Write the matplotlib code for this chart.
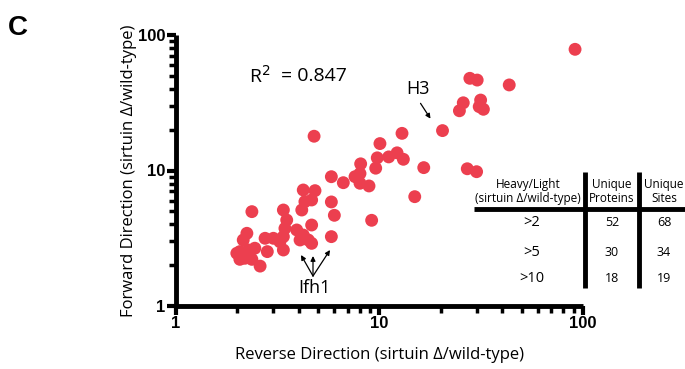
import matplotlib
matplotlib.use("Agg")
import matplotlib.pyplot as plt
from matplotlib.lines import Line2D
from matplotlib.ticker import LogLocator, NullFormatter, FixedFormatter, FixedLocator

# Reverse (x) vs forward (y) heavy/light ratios
reverse_ratio = [
    91.4, 27.8, 30.2, 43.4, 25.8, 24.7, 31.4, 30.9, 32.4, 20.4,
    4.77, 12.9, 10.05, 9.75, 9.58, 11.1, 12.2, 13.1, 16.5, 27.0,
    30.0, 8.08, 8.02, 7.58, 8.02, 8.88, 6.64, 5.80, 14.9, 9.15,
    4.22, 4.82, 4.30, 4.15, 5.80, 6.0, 5.80, 2.36, 3.37, 3.50,
    3.43, 3.37, 2.23, 2.14, 2.06, 2.27, 2.44, 2.18, 2.36, 2.59,
    2.81, 2.74, 3.01, 3.24, 3.37, 3.92, 4.22, 4.47, 4.64, 4.64,
    4.07, 1.99, 4.64, 2.06,
]
forward_ratio = [
    78.4, 47.9, 46.5, 42.8, 31.6, 27.6, 33.1, 29.6, 28.3, 19.7,
    17.9, 18.8, 15.8, 12.4, 10.4, 12.6, 13.5, 12.1, 10.5, 10.3,
    9.8, 11.2, 9.5, 9.0, 8.05, 7.69, 8.13, 9.0, 6.41, 4.29,
    7.18, 7.10, 5.89, 5.11, 5.86, 4.67, 3.25, 4.97, 5.11, 4.31,
    3.74, 3.25, 3.44, 3.07, 2.52, 2.59, 2.67, 2.25, 2.21, 1.97,
    2.52, 3.16, 3.16, 2.98, 2.59, 3.64, 3.34, 3.07, 3.96, 2.90,
    3.07, 2.45, 6.06, 2.21,
]

r_squared = 0.847

table_header = ["Heavy/Light\n(sirtuin \u0394/wild-type)", "Unique\nProteins", "Unique\nSites"]
thresholds = [">2", ">5", ">10"]
unique_proteins = [52, 30, 18]
unique_sites = [68, 34, 19]

W, H = 685, 369


def fx(x):
    return x / W


def fy(y):
    return 1 - y / H


fig = plt.figure(figsize=(6.85, 3.69), dpi=100)
ax = fig.add_axes([fx(176), fy(306), fx(583) - fx(176), fy(35) - fy(306)])

ax.scatter(reverse_ratio, forward_ratio, s=86, color="#EC3F4F", edgecolors="none",
           zorder=3, clip_on=False)

ax.set_xscale("log")
ax.set_yscale("log")
ax.set_xlim(1, 100)
ax.set_ylim(1, 100)

for side in ["top", "right"]:
    ax.spines[side].set_visible(False)
for side in ["left", "bottom"]:
    ax.spines[side].set_linewidth(3.5)
    ax.spines[side].set_capstyle("butt")

for axis in [ax.xaxis, ax.yaxis]:
    axis.set_major_locator(FixedLocator([1, 10, 100]))
    axis.set_major_formatter(FixedFormatter(["1", "10", "100"]))
    axis.set_minor_locator(LogLocator(base=10, subs=range(2, 10)))
    axis.set_minor_formatter(NullFormatter())

ax.tick_params(which="major", length=6.5, width=3, direction="out", pad=1)
ax.tick_params(which="minor", length=5, width=2.5, direction="out")
for lab in ax.get_xticklabels() + ax.get_yticklabels():
    lab.set_fontfamily("Liberation Sans")
    lab.set_fontweight("bold")
    lab.set_fontsize(12)

ax.set_xlabel("Reverse Direction (sirtuin \u0394/wild-type)", fontfamily="Open Sans",
              fontsize=12, labelpad=11)
ax.set_ylabel("Forward Direction (sirtuin \u0394/wild-type)", fontfamily="Open Sans",
              fontsize=12, labelpad=1)

# panel letter
fig.text(fx(8), fy(28), "C", fontsize=20, fontweight="bold", fontfamily="Liberation Sans",
         va="center", ha="left")

# R^2 annotation
fig.text(fx(249), fy(76), "R$^{2}$", fontsize=14, fontfamily="Open Sans", va="center")
fig.text(fx(281), fy(76), f"= {r_squared:.3f}", fontsize=14, fontfamily="Open Sans",
         va="center")

# H3 label and arrow
fig.text(fx(418), fy(89), "H3", fontsize=13, fontfamily="Open Sans", ha="center", va="center")
ax.annotate("", xy=(fx(432), fy(121)), xytext=(fx(419), fy(101)),
            xycoords="figure fraction", textcoords="figure fraction",
            arrowprops=dict(arrowstyle="-|>", lw=0.9, color="black", mutation_scale=7))

# Ifh1 label and arrows
fig.text(fx(314), fy(288), "Ifh1", fontsize=13, fontfamily="Open Sans", ha="center", va="center")
for tx, ty in [(301, 255), (313, 256), (330, 250)]:
    ax.annotate("", xy=(fx(tx), fy(ty)), xytext=(fx(313), fy(276)),
                xycoords="figure fraction", textcoords="figure fraction",
                arrowprops=dict(arrowstyle="-|>", lw=0.9, color="black",
                                mutation_scale=7, shrinkA=0, shrinkB=0))

# summary table
fig.add_artist(Line2D([fx(474), fx(685)], [fy(209), fy(209)], transform=fig.transFigure,
                      color="black", lw=3.5, solid_capstyle="butt"))
for vx in [585, 639]:
    fig.add_artist(Line2D([fx(vx), fx(vx)], [fy(172), fy(288)], transform=fig.transFigure,
                          color="black", lw=3.5, solid_capstyle="butt"))

col_x = [528, 612, 664]
for cx, head in zip(col_x, table_header):
    fig.text(fx(cx), fy(191), head, fontsize=8.5, fontfamily="Open Sans", ha="center",
             va="center", linespacing=1.1)
row_y = [223, 252, 278]
for ry, thr, prot, site in zip(row_y, thresholds, unique_proteins, unique_sites):
    fig.text(fx(col_x[0] + 4), fy(ry), thr, fontsize=10.5, fontfamily="Open Sans",
             ha="center", va="center")
    fig.text(fx(col_x[1]), fy(ry), str(prot), fontsize=9, fontfamily="Open Sans",
             ha="center", va="center")
    fig.text(fx(col_x[2]), fy(ry), str(site), fontsize=9, fontfamily="Open Sans",
             ha="center", va="center")

fig.savefig("out.png", dpi=100)
